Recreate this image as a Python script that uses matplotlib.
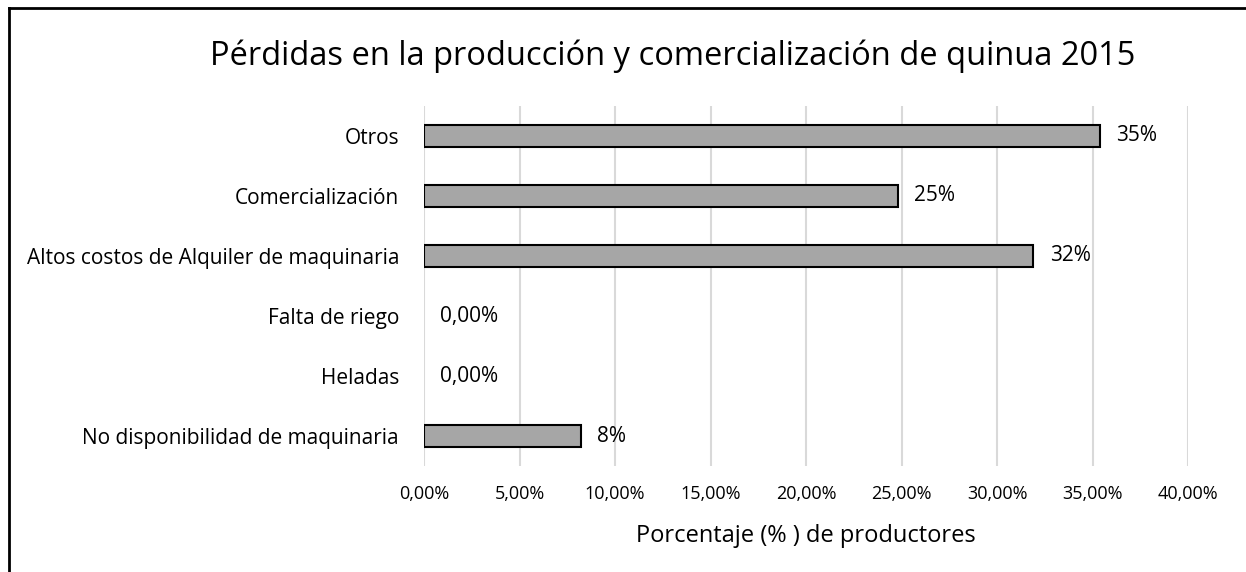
import matplotlib
matplotlib.use("Agg")
import matplotlib.pyplot as plt
from matplotlib.lines import Line2D
from matplotlib.ticker import FuncFormatter

categorias = ["Otros", "Comercialización", "Altos costos de Alquiler de maquinaria",
              "Falta de riego", "Heladas", "No disponibilidad de maquinaria"]
porcentajes = [35.4, 24.8, 31.9, 0.0, 0.0, 8.2]
etiquetas = ["35%", "25%", "32%", "0,00%", "0,00%", "8%"]
ticks_x = [0, 5, 10, 15, 20, 25, 30, 35, 40]

plt.rcParams['font.family'] = ['Open Sans', 'DejaVu Sans']

fig = plt.figure(figsize=(12.46, 5.72), dpi=100)
ax = fig.add_axes([0.3403, 0.1853, 0.6132, 0.6294])

y = list(range(len(categorias)))
bordes = [1.5 if v > 0 else 0 for v in porcentajes]
ax.barh(y, porcentajes, height=0.37, color="#a6a6a6", edgecolor="black", linewidth=bordes, zorder=3)

for yi, v, t in zip(y, porcentajes, etiquetas):
    ax.text(v + 0.85, yi, t, va="center", ha="left", fontsize=15, color="#000000")

ax.set_ylim(len(categorias) - 0.5, -0.5)
ax.set_xlim(0, 40)
ax.set_yticks(y)
ax.set_yticklabels(categorias, fontsize=15)
ax.set_xticks(ticks_x)
ax.xaxis.set_major_formatter(FuncFormatter(lambda v, p: f"{v:.2f}".replace(".", ",") + "%"))
ax.tick_params(axis="x", labelsize=13, length=0, pad=14)
ax.tick_params(axis="y", length=0, pad=18)
ax.grid(axis="x", color="#d9d9d9", linewidth=1.5, zorder=0)
for s in ax.spines.values():
    s.set_visible(False)

ax.set_xlabel("Porcentaje (% ) de productores", fontsize=17, labelpad=15)
fig.text(0.54, 0.902, "Pérdidas en la producción y comercialización de quinua 2015",
         ha="center", va="center", fontsize=23.5)

# marco del gráfico (solo izquierda y arriba visibles)
fig.add_artist(Line2D([0.0072, 0.0072], [0, 0.986], transform=fig.transFigure, color="black", linewidth=2))
fig.add_artist(Line2D([0.0072, 1.0], [0.986, 0.986], transform=fig.transFigure, color="black", linewidth=2))

fig.savefig("out.png", dpi=100)
